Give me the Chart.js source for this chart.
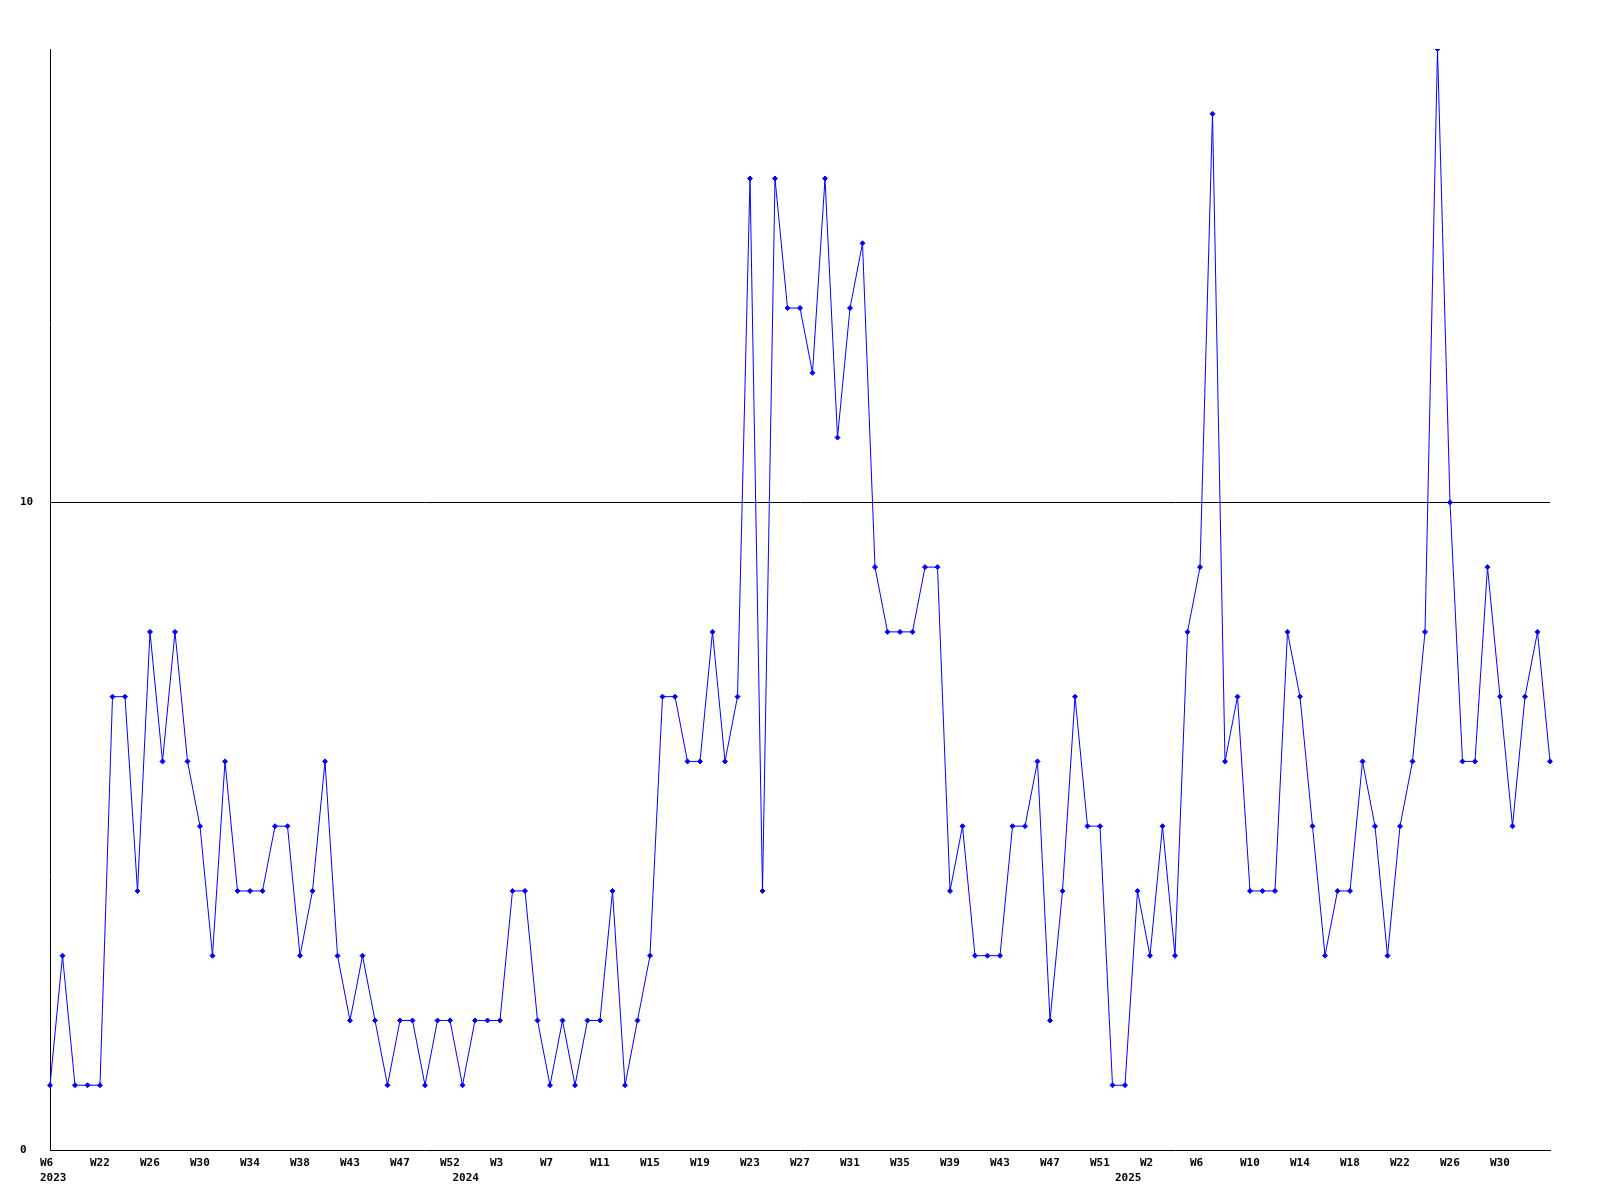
<!DOCTYPE html>
<html>
<head>
<meta charset="utf-8">
<script src="https://cdn.jsdelivr.net/npm/chart.js@4"></script>
<style>
    html, body { margin: 0; padding: 0; background: #fff; }
    #wrap { width: 1600px; height: 1200px; }
</style>
</head>
<body>
<div id="wrap"><canvas id="weeklyChart"></canvas></div>
<script>
// weekly counts, one point per week, W6 2023 .. W34 2025
const counts = [
    1, 3, 1, 1, 1, 7, 7, 4, 8, 6, 8, 6, 5, 3, 6, 4, 4, 4, 5, 5,
    3, 4, 6, 3, 2, 3, 2, 1, 2, 2, 1, 2, 2, 1, 2, 2, 2, 4, 4, 2,
    1, 2, 1, 2, 2, 4, 1, 2, 3, 7, 7, 6, 6, 8, 6, 7, 15, 4, 15, 13,
    13, 12, 15, 11, 13, 14, 9, 8, 8, 8, 9, 9, 4, 5, 3, 3, 3, 5, 5, 6,
    2, 4, 7, 5, 5, 1, 1, 4, 3, 5, 3, 8, 9, 16, 6, 7, 4, 4, 4, 8,
    7, 5, 3, 4, 4, 6, 5, 3, 5, 6, 8, 17, 10, 6, 6, 9, 7, 5, 7, 8,
    6
];

// labels shown under every 4th point
const weekTicks = ['W6', 'W22', 'W26', 'W30', 'W34', 'W38', 'W43', 'W47', 'W52', 'W3',
    'W7', 'W11', 'W15', 'W19', 'W23', 'W27', 'W31', 'W35', 'W39', 'W43',
    'W47', 'W51', 'W2', 'W6', 'W10', 'W14', 'W18', 'W22', 'W26', 'W30'];
const yearAt = [0, 33, 86];
const years = ['2023', '2024', '2025'];
const yTicks = [0, 10];
const yMax = 17;

const tickFont = { family: 'DejaVu Sans Mono', size: 11, weight: 'bold', lineHeight: 1.4 };

document.addEventListener('DOMContentLoaded', function () {
    const ctx = document.getElementById('weeklyChart').getContext('2d');
    new Chart(ctx, {
        type: 'line',
        data: {
            labels: counts.map((_, i) => i),
            datasets: [{
                data: counts,
                borderColor: '#0000ff',
                backgroundColor: '#0000ff',
                borderWidth: 1,
                tension: 0,
                pointStyle: 'rectRot',
                pointRadius: 2.5,
                pointBorderWidth: 1,
                pointHoverRadius: 2.5,
            }]
        },
        options: {
            responsive: true,
            maintainAspectRatio: false,
            animation: false,
            layout: { padding: { left: 20, right: 50, top: 49, bottom: 0 } },
            plugins: {
                legend: { display: false },
                tooltip: { enabled: false }
            },
            scales: {
                x: {
                    grid: { color: 'rgba(0,0,0,0)', drawTicks: false, drawOnChartArea: false },
                    border: { color: '#000', width: 1 },
                    afterFit: function (axis) { axis.height = 50; },
                    ticks: {
                        autoSkip: false,
                        maxRotation: 0,
                        minRotation: 0,
                        align: 'start',
                        labelOffset: -10,
                        padding: 5,
                        color: '#000',
                        font: tickFont,
                        callback: function (value, index) {
                            const week = index % 4 === 0 ? weekTicks[index / 4] : '';
                            const y = yearAt.indexOf(index);
                            return y >= 0 ? [week, years[y]] : week;
                        }
                    }
                },
                y: {
                    min: 0,
                    max: yMax,
                    afterBuildTicks: function (axis) {
                        axis.ticks = yTicks.map(v => ({ value: v }));
                    },
                    afterFit: function (axis) { axis.width = 30; },
                    grid: {
                        drawTicks: false,
                        color: function (c) { return c.tick && c.tick.value === 10 ? '#000' : 'rgba(0,0,0,0)'; }
                    },
                    border: { color: '#000', width: 1 },
                    ticks: {
                        crossAlign: 'far',
                        padding: 0,
                        color: '#000',
                        font: tickFont
                    }
                }
            }
        }
    });
});
</script>
</body>
</html>
